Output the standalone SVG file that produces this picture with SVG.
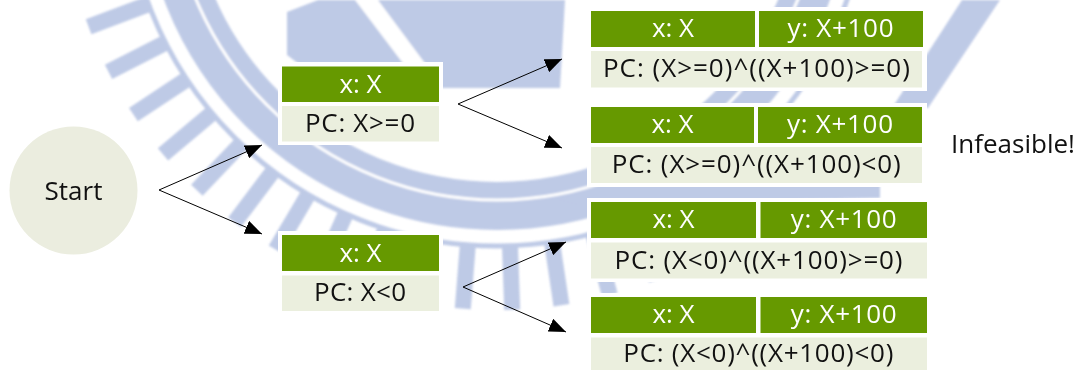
<svg xmlns="http://www.w3.org/2000/svg" xmlns:xlink="http://www.w3.org/1999/xlink" width="1079" height="370" viewBox="0 0 1079 370">
  <style>
    .wm { fill: #b3c1e2; }
    .wmline { fill: none; stroke: #b3c1e2; }
    .pad { fill: #ffffff; }
    .head { fill: #669900; }
    .body { fill: #ebefde; }
    .circ { fill: #ebeddf; }
    text { font-family: "Open Sans", "Noto Sans", sans-serif; font-size: 26px; text-anchor: middle; }
    .ht { fill: #ffffff; }
    .bt { fill: #111111; }
    .edge { fill: none; stroke: #000000; stroke-width: 1; marker-end: url(#arrow); }
  </style>
  <defs>
    <marker id="arrow" viewBox="0 0 17 14" markerWidth="17" markerHeight="14" refX="17" refY="7" orient="auto" markerUnits="userSpaceOnUse">
      <path d="M0,0 L17,7 L0,14 z" fill="#000000"/>
    </marker>
    <rect id="tooth" x="370" y="-8" width="66" height="16"/>
    <filter id="soft" x="-10%" y="-10%" width="120%" height="120%">
      <feGaussianBlur stdDeviation="1.2"/>
    </filter>
  </defs>

  <rect width="1079" height="370" fill="#ffffff"/>

  <!-- faint emblem in the background -->
  <g id="emblem" filter="url(#soft)" opacity="0.85">
    <circle class="wmline" cx="497" cy="-126" r="332" stroke-width="48"/>
    <circle cx="497" cy="-126" r="326" fill="none" stroke="#ffffff" stroke-width="3"/>
    <circle class="wmline" cx="497" cy="-126" r="372" stroke-width="5"/>
    <g class="wm" transform="translate(497,-126)">
      <use xlink:href="#tooth" transform="rotate(62)"/>
      <use xlink:href="#tooth" transform="rotate(68.5)"/>
      <use xlink:href="#tooth" transform="rotate(75)"/>
      <use xlink:href="#tooth" transform="rotate(81.5)"/>
      <use xlink:href="#tooth" transform="rotate(88)"/>
      <use xlink:href="#tooth" transform="rotate(94.5)"/>
      <use xlink:href="#tooth" transform="rotate(101)"/>
      <use xlink:href="#tooth" transform="rotate(107.5)"/>
      <use xlink:href="#tooth" transform="rotate(114)"/>
      <use xlink:href="#tooth" transform="rotate(120.5)"/>
      <use xlink:href="#tooth" transform="rotate(127)"/>
      <use xlink:href="#tooth" transform="rotate(133.5)"/>
      <use xlink:href="#tooth" transform="rotate(140)"/>
      <use xlink:href="#tooth" transform="rotate(146.5)"/>
      <use xlink:href="#tooth" transform="rotate(153)"/>
      <use xlink:href="#tooth" transform="rotate(159.5)"/>
    </g>
    <polygon class="wm" points="287,12 287,55 330,88 560,88 565,0 318,0"/>
    <polygon fill="#ffffff" points="355,0 378,0 430,70 408,70"/>
    <rect class="wm" x="528" y="8" width="20" height="56"/>
    <polygon class="wm" points="962,0 1000,0 928,108 892,108"/>
    <polygon class="wm" points="560,200 600,185 880,185 880,198 580,205"/>
  </g>

  <!-- connectors -->
  <g id="connectors">
    <line class="edge" x1="159" y1="190" x2="262" y2="145"/>
    <line class="edge" x1="159" y1="190" x2="262" y2="234"/>
    <line class="edge" x1="458" y1="104" x2="562" y2="59"/>
    <line class="edge" x1="458" y1="104" x2="562" y2="148"/>
    <line class="edge" x1="463" y1="287" x2="566" y2="242"/>
    <line class="edge" x1="463" y1="287" x2="566" y2="332"/>
  </g>

  <g id="start">
    <circle class="circ" cx="73.5" cy="190.5" r="64"/>
    <text class="bt" x="73.5" y="199.5">Start</text>
  </g>

  <g id="n-ge0">
    <rect class="pad" x="278" y="62" width="165" height="83"/>
    <rect class="head" x="282" y="66.5" width="157" height="35.5"/>
    <rect class="body" x="282" y="106" width="157" height="35.5"/>
    <text class="ht" x="360.5" y="92.5">x: X</text>
    <text class="bt" x="360" y="131.5" textLength="110" lengthAdjust="spacing">PC: X&gt;=0</text>
  </g>

  <g id="n-lt0">
    <rect class="pad" x="278" y="231" width="165" height="84"/>
    <rect class="head" x="282" y="235" width="157" height="36"/>
    <rect class="body" x="282" y="275.5" width="157" height="35.5"/>
    <text class="ht" x="360.5" y="261.5">x: X</text>
    <text class="bt" x="360" y="300.5" textLength="92" lengthAdjust="spacing">PC: X&lt;0</text>
  </g>

  <g id="n-ge0-ge0">
    <rect class="pad" x="587" y="7" width="340" height="84"/>
    <rect class="head" x="591" y="11" width="164" height="36"/>
    <rect class="head" x="759" y="11" width="164" height="36"/>
    <rect class="body" x="591" y="51" width="331" height="36.5"/>
    <text class="ht" x="673" y="37.2">x: X</text>
    <text class="ht" x="840.5" y="37.2" textLength="106" lengthAdjust="spacing">y: X+100</text>
    <text class="bt" x="756.4" y="76.5" textLength="307" lengthAdjust="spacing">PC: (X&gt;=0)^((X+100)&gt;=0)</text>
  </g>

  <g id="n-ge0-lt0">
    <rect class="pad" x="587" y="103" width="340" height="84"/>
    <rect class="head" x="591" y="107" width="163" height="36"/>
    <rect class="head" x="758" y="107" width="164" height="36"/>
    <rect class="body" x="591" y="147" width="331" height="36"/>
    <text class="ht" x="672.5" y="133.2">x: X</text>
    <text class="ht" x="840" y="133.2" textLength="106" lengthAdjust="spacing">y: X+100</text>
    <text class="bt" x="756.2" y="172.8" textLength="289" lengthAdjust="spacing">PC: (X&gt;=0)^((X+100)&lt;0)</text>
  </g>

  <g id="n-lt0-ge0">
    <rect class="pad" x="587" y="198" width="344" height="84"/>
    <rect class="head" x="591" y="202" width="165" height="36"/>
    <rect class="head" x="760.5" y="202" width="166.5" height="36"/>
    <rect class="body" x="591" y="242.5" width="336" height="36"/>
    <text class="ht" x="673.5" y="228.2">x: X</text>
    <text class="ht" x="843.7" y="228.2" textLength="106" lengthAdjust="spacing">y: X+100</text>
    <text class="bt" x="758.5" y="268.5" textLength="288" lengthAdjust="spacing">PC: (X&lt;0)^((X+100)&gt;=0)</text>
  </g>

  <g id="n-lt0-lt0">
    <rect class="pad" x="587" y="293" width="344" height="82"/>
    <rect class="head" x="591" y="297" width="165" height="36"/>
    <rect class="head" x="760.5" y="297" width="166.5" height="36"/>
    <rect class="body" x="591" y="337.5" width="336" height="36"/>
    <text class="ht" x="673.5" y="323.2">x: X</text>
    <text class="ht" x="843.7" y="323.2" textLength="106" lengthAdjust="spacing">y: X+100</text>
    <text class="bt" x="758.3" y="362.2" textLength="270" lengthAdjust="spacing">PC: (X&lt;0)^((X+100)&lt;0)</text>
  </g>

  <g id="infeasible">
    <text class="bt" x="1013" y="152.8">Infeasible!</text>
  </g>
</svg>
